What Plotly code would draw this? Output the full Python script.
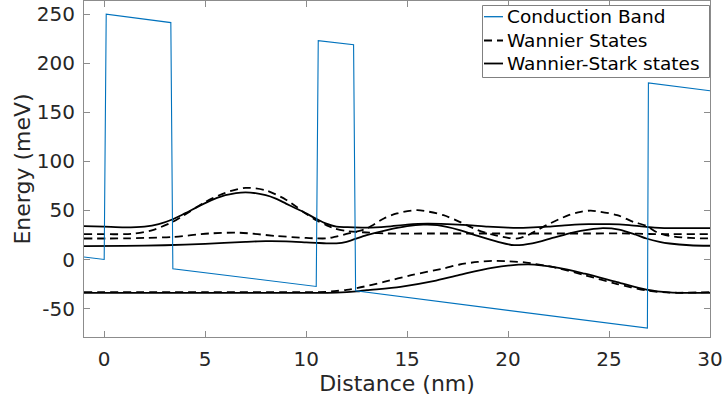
import plotly.graph_objects as go

# Conduction band profile (corner points)
cb_x = [-1, 0, 0.1, 3.3, 3.4, 10.5, 10.6, 12.35, 12.45, 26.9, 26.95, 30]
cb_y = [2.5, 0, 250, 241.5, -9.5, -27.5, 223, 219, -32, -70, 180, 172]

# Wannier-Stark states (solid)
ws1_x = [-1, 0, 1, 2, 2.7, 3.4, 4, 5, 6, 7, 8, 8.5, 9, 9.5, 10, 10.5, 11, 11.5, 12, 13, 14, 15, 16, 17,
         18, 19, 20, 20.5, 21, 22, 23, 24, 25, 26, 27, 27.5, 28, 29, 30]
ws1_y = [34, 33.5, 32.8, 33.5, 36, 41, 47, 57.5, 65.5, 68.5, 65.5, 62, 57, 52, 47, 41.5, 36.5, 33.5, 33, 32.5,
         33.5, 35.5, 36.5, 36, 35, 33.5, 32.5, 32.3, 32.5, 33.5, 35, 36, 36, 35, 33, 32.3, 32, 32, 32]

ws2_x = [-1, 1, 3, 5, 7, 8, 9, 10, 10.5, 11, 11.5, 12, 13, 14, 15, 15.8, 16.5, 17.6, 18.5, 19.5, 20.3, 21.2,
         22.2, 23.2, 24.0, 24.7, 25.5, 26.3, 26.85, 27.5, 28, 29, 30]
ws2_y = [13.6, 13.8, 14.5, 16, 18, 18.7, 18.5, 17.5, 17, 16.5, 16.5, 18, 24.8, 30, 34, 35.5, 35, 30, 24, 18, 14.6,
         16.5, 22, 27.5, 30.5, 32, 30.5, 25.5, 21.4, 18, 16.3, 14.5, 14]

ws3_x = [-1, 5, 10, 11.5, 12.5, 13, 14.67, 16.3, 17.6, 19.2, 21, 22.5, 23.8, 25.4, 26.85, 28, 29, 30]
ws3_y = [-34, -34, -34, -33.7, -32.5, -31.3, -27.9, -22.1, -15.7, -8.5, -5, -8.5, -14.5, -23, -30.6, -33.5,
         -34, -34]

# Wannier states (dashed)
wd1_x = [-1, 0, 1, 1.5, 2.4, 3.4, 3.9, 5, 6, 7, 8, 9, 9.5, 10, 10.5, 11, 11.4, 12, 13, 14, 16, 18, 20, 22,
         24, 26, 27, 28, 30]
wd1_y = [25.8, 25.8, 25.8, 26.5, 30, 38.4, 44.5, 58.5, 68, 73, 70.5, 61, 54, 46.5, 40, 35, 31.6, 29, 27.5,
         26.5, 26.5, 26.5, 26.5, 26.5, 26.5, 26.5, 26, 25.8, 25.8]

wd2_x = [-1, 1, 2, 3.4, 5.2, 6.7, 8.5, 10, 10.5, 11, 11.4, 12, 12.5, 13, 13.85, 14.5, 15.5, 16.8, 17.6, 18,
         18.5, 19.2, 20, 20.5, 21, 21.9, 23, 23.6, 24.1, 25.4, 26.2, 26.85, 27.35, 28, 29, 30]
wd2_y = [21.4, 21.5, 22, 23, 26.5, 27.3, 24, 22, 21.5, 21.5, 23, 26, 28.5, 31.6, 41.8, 47, 50.3, 45.2, 38.4,
         34.5, 30, 25.5, 22, 21.5, 25, 35, 45.2, 48.6, 49.8, 45.2, 38.4, 34.3, 28, 24, 22, 21.4]

wd3_x = [-1, 5, 10, 11, 11.4, 12, 12.56, 13.85, 15.2, 16.8, 17.6, 18.5, 19.2, 20, 20.9, 21.9, 22.5, 23.8,
         25.4, 26.85, 28, 30]
wd3_y = [-33.3, -33.3, -33.3, -33, -32.3, -31, -29, -22.9, -16, -9.2, -5.1, -2.5, -1.5, -1.8, -3.1, -6.5, -9,
         -16, -25, -31.5, -33.8, -33.3]

x_ticks = [0, 5, 10, 15, 20, 25, 30]
x_tick_text = ["0", "5", "10", "15", "20", "25", "30"]
y_ticks = [-50, 0, 50, 100, 150, 200, 250]
y_tick_text = ["-50", "0", "50", "100", "150", "200", "250"]

legend_labels = ["Conduction Band", "Wannier States", "Wannier-Stark states"]

FONT = "DejaVu Sans"
TXT = "#262626"
AX = "#8c8c8c"
CB_COLOR = "#0072BD"
DASH = "8px,5px"

W, H = 723, 398
ML, MR, MT, MB = 84, 13, 1, 61
PW, PH = W - ML - MR, H - MT - MB


def px_x(p):
    return (p - ML) / PW


def px_y(p):
    return (H - MB - p) / PH


fig = go.Figure()

dashed = [(wd1_x, wd1_y), (wd2_x, wd2_y), (wd3_x, wd3_y)]
for xs, ys in dashed:
    fig.add_trace(go.Scatter(x=xs, y=ys, mode="lines", name=legend_labels[1], showlegend=False,
                             line=dict(color="black", width=1.8, dash=DASH, shape="spline",
                                       smoothing=0.8)))

solid = [(ws1_x, ws1_y), (ws2_x, ws2_y), (ws3_x, ws3_y)]
for xs, ys in solid:
    fig.add_trace(go.Scatter(x=xs, y=ys, mode="lines", name=legend_labels[2], showlegend=False,
                             line=dict(color="black", width=1.8, shape="spline", smoothing=0.8)))

fig.add_trace(go.Scatter(x=cb_x, y=cb_y, mode="lines", name=legend_labels[0], showlegend=False,
                         line=dict(color=CB_COLOR, width=1.1)))

# legend box drawn in the MATLAB style (short samples)
shapes = [dict(type="rect", xref="paper", yref="paper",
               x0=px_x(482.5), x1=px_x(709.5), y0=px_y(77.5), y1=px_y(5.5),
               line=dict(color="#808080", width=1), fillcolor="white", layer="above")]
annotations = []
row_y = [16.7, 40.5, 63.5]
styles = [dict(color=CB_COLOR, width=1.3), dict(color="black", width=1.8, dash=DASH),
          dict(color="black", width=1.8)]
for label, ry, st in zip(legend_labels, row_y, styles):
    shapes.append(dict(type="line", xref="paper", yref="paper",
                       x0=px_x(484), x1=px_x(503), y0=px_y(ry), y1=px_y(ry),
                       line=st, layer="above"))
    annotations.append(dict(text=label, xref="paper", yref="paper", x=px_x(504.5), y=px_y(ry),
                            xanchor="left", yanchor="middle", showarrow=False,
                            font=dict(family=FONT, size=18.5, color="black")))

axis_common = dict(showline=True, linecolor=AX, linewidth=1, mirror="ticks", ticks="inside",
                   ticklen=6, tickcolor=AX, showgrid=False, zeroline=False, automargin=False,
                   tickfont=dict(family=FONT, size=20, color=TXT))

fig.update_layout(
    width=W, height=H,
    margin=dict(l=ML, r=MR, t=MT, b=MB),
    paper_bgcolor="white", plot_bgcolor="white",
    font=dict(family=FONT, color=TXT),
    xaxis=dict(range=[-1, 30], tickvals=x_ticks, ticktext=x_tick_text, ticklabelstandoff=4,
               title=dict(text="Distance (nm)", font=dict(family=FONT, size=22, color=TXT), standoff=2),
               **axis_common),
    yaxis=dict(range=[-79, 263.5], tickvals=y_ticks, ticktext=y_tick_text, ticklabelstandoff=4,
               title=dict(text="Energy (meV)", font=dict(family=FONT, size=22, color=TXT), standoff=0),
               **axis_common),
    shapes=shapes,
    annotations=annotations,
    showlegend=False,
)

fig.write_html("out.html", config={"displayModeBar": False},
               post_script="document.body.style.margin='0';")
